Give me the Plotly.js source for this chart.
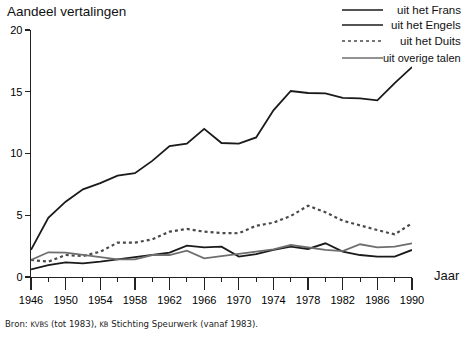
<!DOCTYPE html>
<html>
<head>
<meta charset="utf-8">
<script src="https://cdn.plot.ly/plotly-3.0.1.min.js"></script>
<style>html,body{margin:0;padding:0;background:#fff;}#chart{width:470px;height:337px;}</style>
</head>
<body>
<div id="chart"></div>
<script>
const years = [1946,1948,1950,1952,1954,1956,1958,1960,1962,1964,1966,1968,1970,1972,1974,1976,1978,1980,1982,1984,1986,1988,1990];
const frans   = [0.62,0.97,1.19,1.1,1.24,1.43,1.59,1.78,1.97,2.54,2.4,2.46,1.65,1.85,2.2,2.46,2.27,2.73,2.05,1.78,1.65,1.65,2.19];
const engels  = [2.2,4.8,6.1,7.1,7.6,8.2,8.4,9.4,10.6,10.8,12.0,10.85,10.8,11.3,13.5,15.06,14.9,14.87,14.5,14.47,14.3,15.7,17.0];
const duits   = [1.38,1.24,1.78,1.7,2.05,2.78,2.78,3.05,3.67,3.89,3.67,3.56,3.54,4.15,4.4,4.94,5.77,5.24,4.56,4.15,3.8,3.45,4.35];
const overige = [1.38,2.0,1.97,1.78,1.65,1.43,1.43,1.78,1.78,2.13,1.51,1.7,1.86,2.05,2.24,2.59,2.4,2.19,2.1,2.65,2.4,2.46,2.73];
const seriesNames = ['uit het Frans','uit het Engels','uit het Duits','uit overige talen'];
const yTicks = [0,5,10,15,20];
const xTicks = [1946,1950,1954,1958,1962,1966,1970,1974,1978,1982,1986,1990];

const styles = [
  {color:'#1a1a1a', width:1.8, dash:'solid'},
  {color:'#1a1a1a', width:1.8, dash:'solid'},
  {color:'#4a4a4a', width:2.2, dash:'dot'},
  {color:'#6e6e6e', width:1.8, dash:'solid'}
];
const data = [frans, engels, duits, overige].map((vals,i)=>({
  x: years, y: vals, type:'scatter', mode:'lines', name: seriesNames[i],
  line: styles[i], showlegend:false
}));

const fontFam = 'Liberation Sans, Arial, sans-serif';
const legY = [10, 25, 41, 58];
const shapes = [];
const annotations = [];
seriesNames.forEach((n,i)=>{
  const yy = (337-60-legY[i])/247;
  shapes.push({type:'line', xref:'paper', yref:'paper',
    x0:(342-31)/381, x1:(383-31)/381, y0:yy, y1:yy,
    line:{color:styles[i].color, width:1.6, dash: i===2 ? 'dot' : 'solid'}});
  annotations.push({xref:'paper', yref:'paper', x:(463-31)/381, y:yy,
    xanchor:'right', yanchor:'middle', showarrow:false, text:n,
    font:{family:fontFam, size: i===3 ? 11 : 11.5, color:'#111'}});
});
annotations.push({xref:'paper', yref:'paper', x:-26/381, y:(337-60-12)/247, xanchor:'left', yanchor:'middle',
  showarrow:false, text:'Aandeel vertalingen', font:{family:fontFam, size:13.5, color:'#111'}});
annotations.push({xref:'paper', yref:'paper', x:(447-31)/381, y:(337-60-275)/247, xanchor:'center', yanchor:'middle',
  showarrow:false, text:'Jaar', font:{family:fontFam, size:13, color:'#111'}});
annotations.push({xref:'paper', yref:'paper', x:-28/381, y:(337-60-323)/247, xanchor:'left', yanchor:'middle',
  showarrow:false, text:'Bron: <span style="font-size:7.5px">KVBS</span> (tot 1983), <span style="font-size:7.5px">KB</span> Stichting Speurwerk (vanaf 1983).',
  font:{family:'DejaVu Sans Condensed, DejaVu Sans, sans-serif', size:9.5, color:'#222'}});

const layout = {
  width:470, height:337,
  margin:{l:31, r:58, t:30, b:60},
  paper_bgcolor:'#fff', plot_bgcolor:'#fff',
  showlegend:false,
  xaxis:{range:[1946,1990], tickvals:xTicks, ticktext:xTicks.map(String),
    ticks:'outside', ticklen:12, tickwidth:1.3, tickcolor:'#222',
    minor:{tickvals:years, ticks:'outside', ticklen:4, tickwidth:1, tickcolor:'#222'},
    showline:true, linecolor:'#222', linewidth:1.3, showgrid:false, zeroline:false,
    tickfont:{family:fontFam, size:11, color:'#000'}, fixedrange:true},
  yaxis:{range:[0,20], tickvals:yTicks, ticktext:yTicks.map(String),
    ticks:'outside', ticklen:5, tickwidth:1.3, tickcolor:'#222',
    showline:true, linecolor:'#222', linewidth:1.3, showgrid:false, zeroline:false,
    tickfont:{family:fontFam, size:11, color:'#000'}, fixedrange:true},
  shapes:shapes, annotations:annotations
};
Plotly.newPlot('chart', data, layout, {staticPlot:true, displayModeBar:false});
</script>
</body>
</html>
